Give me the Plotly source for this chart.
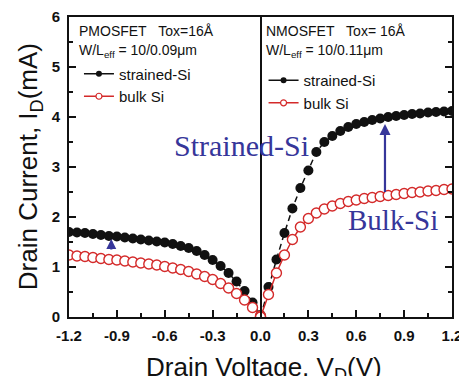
import plotly.graph_objects as go

# ---------------- data ----------------
vd_p = [-1.2, -1.15, -1.1, -1.05, -1.0, -0.95, -0.9, -0.85, -0.8, -0.75, -0.7, -0.65,
        -0.6, -0.55, -0.5, -0.45, -0.4, -0.35, -0.3, -0.25, -0.2, -0.15, -0.1, -0.05, 0.0]
id_p_strained = [1.70, 1.69, 1.68, 1.66, 1.64, 1.62, 1.61, 1.59, 1.57, 1.55, 1.53, 1.51,
                 1.49, 1.46, 1.42, 1.38, 1.32, 1.24, 1.14, 1.02, 0.88, 0.71, 0.52, 0.29, 0.04]
id_p_bulk = [1.24, 1.22, 1.21, 1.19, 1.17, 1.15, 1.14, 1.12, 1.10, 1.08, 1.06, 1.04,
             1.01, 0.98, 0.95, 0.91, 0.86, 0.81, 0.75, 0.67, 0.58, 0.47, 0.34, 0.19, 0.02]

vd_n = [0.0, 0.05, 0.1, 0.15, 0.2, 0.25, 0.3, 0.35, 0.4, 0.45, 0.5, 0.55, 0.6, 0.65,
        0.7, 0.75, 0.8, 0.85, 0.9, 0.95, 1.0, 1.05, 1.1, 1.15, 1.2]
id_n_strained = [0.0, 0.60, 1.15, 1.68, 2.17, 2.58, 2.93, 3.30, 3.50, 3.62, 3.72, 3.80, 3.86,
                 3.90, 3.94, 3.97, 4.00, 4.02, 4.04, 4.06, 4.07, 4.09, 4.10, 4.11, 4.12]
id_n_bulk = [0.0, 0.45, 0.88, 1.24, 1.55, 1.80, 1.97, 2.08, 2.16, 2.22, 2.27, 2.31, 2.34,
             2.37, 2.39, 2.41, 2.43, 2.45, 2.47, 2.49, 2.50, 2.52, 2.53, 2.55, 2.56]

x_ticks = [-1.2, -0.9, -0.6, -0.3, 0.0, 0.3, 0.6, 0.9, 1.2]
x_tick_labels = ["-1.2", "-0.9", "-0.6", "-0.3", "0.0", "0.3", "0.6", "0.9", "1.2"]
y_ticks = [0, 1, 2, 3, 4, 5, 6]

# arrows: (x, y_tail, y_head)
arrow_p = (-0.935, 1.32, 1.56)
arrow_n = (0.78, 2.47, 3.86)

# ---------------- style ----------------
BLACK = "#111111"
RED = "#d42a2a"
BLUE = "#36369a"
SANS = "Liberation Sans, Arial, sans-serif"
SERIF = "Liberation Serif, Times New Roman, serif"

fig = go.Figure()

def add_pair(x, ys, yb):
    fig.add_trace(go.Scatter(x=x, y=ys, mode="lines+markers", showlegend=False,
                             line=dict(color=BLACK, width=1.5, dash="6px,4px"),
                             marker=dict(symbol="circle", size=10, color=BLACK)))
    fig.add_trace(go.Scatter(x=x, y=yb, mode="lines+markers", showlegend=False,
                             line=dict(color=RED, width=1.5),
                             marker=dict(symbol="circle", size=10, color="white",
                                         line=dict(color=RED, width=1.4))))

add_pair(vd_p, id_p_strained, id_p_bulk)
add_pair(vd_n, id_n_strained, id_n_bulk)

# legend-only entries
for lg in ("legend", "legend2"):
    fig.add_trace(go.Scatter(x=[None], y=[None], mode="lines+markers", name="strained-Si",
                             legend=lg, line=dict(color=BLACK, width=1.5),
                             marker=dict(size=6, color=BLACK)))
    fig.add_trace(go.Scatter(x=[None], y=[None], mode="lines+markers", name="bulk Si",
                             legend=lg, line=dict(color=RED, width=1.5),
                             marker=dict(size=6, color="white", line=dict(color=RED, width=1.2))))

tickfont = dict(family=SANS, size=15, color=BLACK, weight="bold")

fig.update_layout(
    template="none",
    width=467, height=376,
    margin=dict(l=61, r=23, t=9, b=67, autoexpand=False),
    paper_bgcolor="white", plot_bgcolor="white",
    showlegend=True,
    legend=dict(x=0.026, y=0.865, xanchor="left", yanchor="top", bgcolor="rgba(0,0,0,0)",
                font=dict(family=SANS, size=15, color=BLACK), tracegroupgap=0,
                itemwidth=30),
    legend2=dict(x=0.508, y=0.843, xanchor="left", yanchor="top", bgcolor="rgba(0,0,0,0)",
                 font=dict(family=SANS, size=15, color=BLACK), tracegroupgap=0,
                 itemwidth=30),
    xaxis=dict(range=[-1.2, 1.2], tickvals=x_ticks, ticktext=x_tick_labels, automargin=False,
               ticks="inside", ticklen=7, tickwidth=2, tickcolor=BLACK,
               minor=dict(dtick=0.15, tick0=0, ticks="inside", ticklen=4, tickwidth=2, tickcolor=BLACK),
               showline=True, linecolor=BLACK, linewidth=2, mirror=True,
               showgrid=False, zeroline=True, zerolinecolor=BLACK, zerolinewidth=1.5,
               tickfont=tickfont, ticklabelstandoff=4),
    yaxis=dict(range=[0, 6], tickvals=y_ticks, ticks="inside", ticklen=7, tickwidth=2,
               tickcolor=BLACK, automargin=False,
               minor=dict(dtick=0.5, ticks="inside", ticklen=4, tickwidth=2, tickcolor=BLACK),
               showline=True, linecolor=BLACK, linewidth=2, showgrid=False, zeroline=False,
               tickfont=tickfont, ticklabelstandoff=4),
    yaxis2=dict(range=[0, 6], tickvals=y_ticks, overlaying="y", side="right", automargin=False,
                ticks="inside", ticklen=7, tickwidth=2, tickcolor=BLACK,
                minor=dict(dtick=0.5, ticks="inside", ticklen=4, tickwidth=2, tickcolor=BLACK),
                showline=True, linecolor=BLACK, linewidth=2, showgrid=False, zeroline=False,
                tickfont=tickfont, ticklabelstandoff=4),
)

# dummy trace to activate yaxis2
fig.add_trace(go.Scatter(x=[None], y=[None], yaxis="y2", showlegend=False))

ann = []
txtfont = dict(family=SANS, size=14, color=BLACK)
ann.append(dict(text="PMOSFET\u00a0\u00a0\u00a0Tox=16Å", x=0.022, y=0.952, xref="paper", yref="paper",
                xanchor="left", yanchor="middle", showarrow=False, font=txtfont))
ann.append(dict(text="W/L<sub>eff</sub> = 10/0.09μm", x=0.022, y=0.888, xref="paper", yref="paper",
                xanchor="left", yanchor="middle", showarrow=False, font=txtfont))
ann.append(dict(text="NMOSFET\u00a0\u00a0\u00a0Tox= 16Å", x=0.51, y=0.952, xref="paper", yref="paper",
                xanchor="left", yanchor="middle", showarrow=False, font=txtfont))
ann.append(dict(text="W/L<sub>eff</sub> = 10/0.11μm", x=0.51, y=0.888, xref="paper", yref="paper",
                xanchor="left", yanchor="middle", showarrow=False, font=txtfont))
ann.append(dict(text="Strained-Si", x=-0.12, y=3.44, xref="x", yref="y", showarrow=False,
                font=dict(family=SERIF, size=30, color=BLUE)))
ann.append(dict(text="Bulk-Si", x=0.83, y=1.94, xref="x", yref="y", showarrow=False,
                font=dict(family=SERIF, size=29, color=BLUE)))
for (ax_, y0, y1), hs in ((arrow_p, 0.9), (arrow_n, 1.0)):
    ann.append(dict(x=ax_, y=y1, ax=ax_, ay=y0, xref="x", yref="y", axref="x", ayref="y",
                    text="", showarrow=True, arrowhead=2, arrowsize=hs, arrowwidth=2.2,
                    arrowcolor=BLUE))
# axis titles
ann.append(dict(text="Drain Voltage, V<sub>D</sub>(V)", x=0.51, y=-0.173, xref="paper", yref="paper",
                xanchor="center", yanchor="middle", showarrow=False,
                font=dict(family=SANS, size=26, color=BLACK)))
ann.append(dict(text="Drain Current, I<sub>D</sub>(mA)", x=-0.104, y=0.5, xref="paper", yref="paper",
                xanchor="center", yanchor="middle", showarrow=False, textangle=-90,
                font=dict(family=SANS, size=26, color=BLACK)))
fig.update_layout(annotations=ann)

fig.write_html("out.html")
